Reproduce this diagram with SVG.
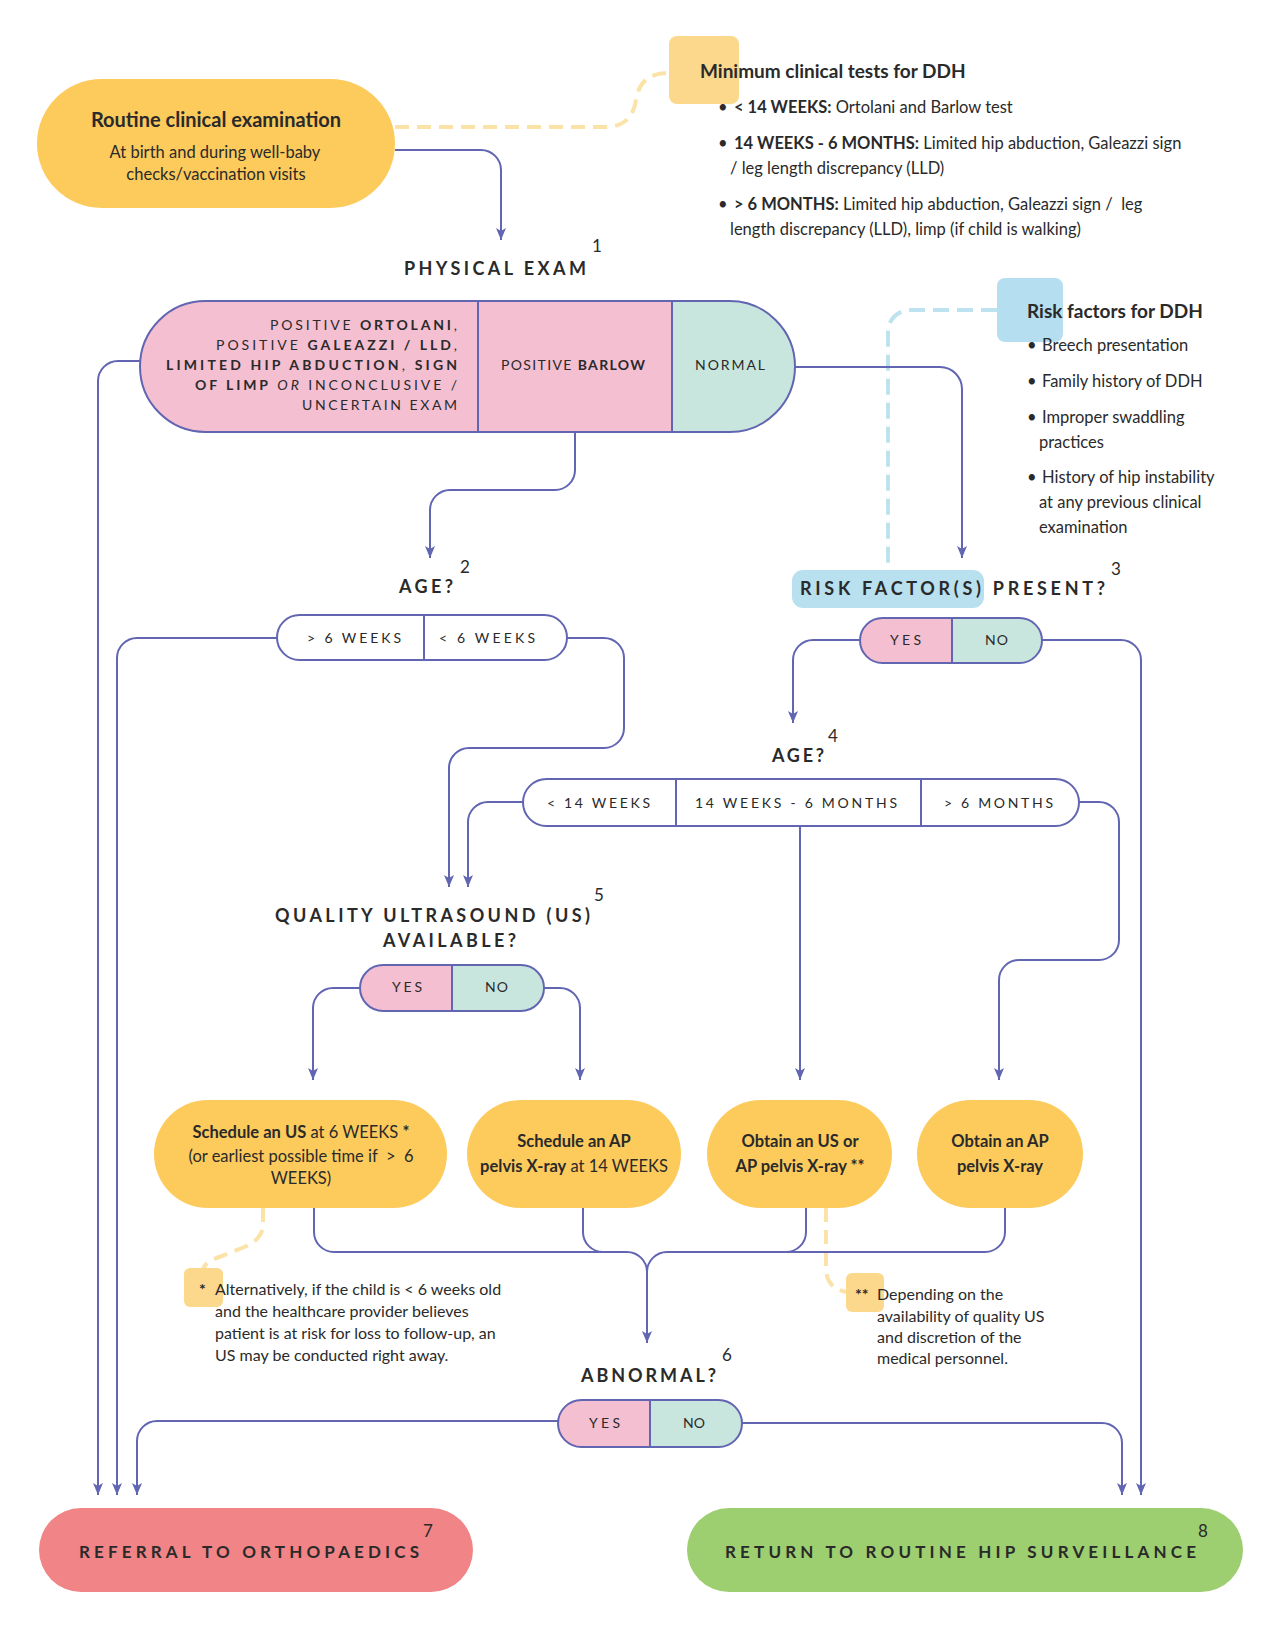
<svg xmlns="http://www.w3.org/2000/svg" width="1276" height="1651" viewBox="0 0 1276 1651">
<defs>
<style>
text{font-family:Lato,"Liberation Sans",sans-serif;fill:#2a2a2a}
.hd{font-size:18px;font-weight:700}
.sup{font-size:17px}
.opt{font-size:14px}
.b{font-weight:700}
.body{font-size:16.5px}
.fn{font-size:16px}
.ttl{font-size:19px;font-weight:700}
.box{font-size:16.5px;text-anchor:middle}
.conn{fill:none;stroke:#6165B2;stroke-width:2;marker-end:url(#arr)}
.ln{fill:none;stroke:#6165B2;stroke-width:2}
.ol{stroke:#6165B2;stroke-width:2}
.dy{fill:none;stroke:#FBE2A6;stroke-width:4;stroke-dasharray:14 8}
.db{fill:none;stroke:#BDE2F0;stroke-width:4;stroke-dasharray:16 8}
.yel{fill:#FDCA5C}
.pk{fill:#F4BFD1}
.mt{fill:#C9E6DE}
</style>
<marker id="arr" viewBox="0 0 12 10" refX="12" refY="5" markerWidth="12" markerHeight="10" markerUnits="userSpaceOnUse" orient="auto">
<path d="M0,0 L12,5 L0,10 L3,5 Z" fill="#6165B2"/>
</marker>
</defs>
<rect width="1276" height="1651" fill="#fff"/>

<g id="connectors">
<path class="dy" d="M395,127 H605 Q632,127 636,100 Q640,73 668,73"/>
<path class="db" d="M997,310 H910 A22,22 0 0 0 888,332 V570"/>
<path class="dy" d="M263,1208 V1224 Q263,1240 242,1248 L222,1256 Q204,1262 203,1270"/>
<path class="dy" d="M826,1208 V1268 Q826,1288 846,1292"/>
<path class="conn" d="M395,150 H481 A20,20 0 0 1 501,170 V240"/>
<path class="conn" d="M140,361 H118 A20,20 0 0 0 98,381 V1495"/>
<path class="conn" d="M575,432 V470 A20,20 0 0 1 555,490 H450 A20,20 0 0 0 430,510 V558"/>
<path class="conn" d="M795,367 H940 A22,22 0 0 1 962,389 V558"/>
<path class="conn" d="M277,638 H137 A20,20 0 0 0 117,658 V1495"/>
<path class="conn" d="M567,638 H604 A20,20 0 0 1 624,658 V728 A20,20 0 0 1 604,748 H469 A20,20 0 0 0 449,768 V887"/>
<path class="conn" d="M523,802 H488 A20,20 0 0 0 468,822 V887"/>
<path class="conn" d="M800,826 V1080"/>
<path class="conn" d="M1079,802 H1099 A20,20 0 0 1 1119,822 V940 A20,20 0 0 1 1099,960 H1019 A20,20 0 0 0 999,980 V1080"/>
<path class="conn" d="M860,640 H813 A20,20 0 0 0 793,660 V723"/>
<path class="conn" d="M1042,640 H1121 A20,20 0 0 1 1141,660 V1495"/>
<path class="conn" d="M360,988 H333 A20,20 0 0 0 313,1008 V1080"/>
<path class="conn" d="M544,988 H560 A20,20 0 0 1 580,1008 V1080"/>
<path class="conn" d="M314,1208 V1232 A20,20 0 0 0 334,1252 H627 A20,20 0 0 1 647,1272 V1343"/>
<path class="ln" d="M1005,1208 V1232 A20,20 0 0 1 985,1252 H667 A20,20 0 0 0 647,1272"/>
<path class="ln" d="M583,1208 V1232 A20,20 0 0 0 603,1252"/>
<path class="ln" d="M806,1208 V1232 A20,20 0 0 1 786,1252"/>
<path class="conn" d="M558,1421 H157 A20,20 0 0 0 137,1441 V1495"/>
<path class="conn" d="M742,1423 H1102 A20,20 0 0 1 1122,1443 V1495"/>
</g>

<g id="routine">
<rect class="yel" x="37" y="79" width="358" height="129" rx="64.5"/>
<text x="216" y="127" text-anchor="middle" style="font-size:20px;font-weight:700">Routine clinical examination</text>
<text x="215" y="158" text-anchor="middle" class="body">At birth and during well-baby</text>
<text x="216" y="180" text-anchor="middle" class="body">checks/vaccination visits</text>
</g>

<g id="min-tests">
<rect x="669" y="36" width="70" height="68" rx="8" fill="#FCD88C"/>
<text x="700" y="78" class="ttl">Minimum clinical tests for DDH</text>
<g class="body">
<text x="718" y="113">•</text>
<text x="734" y="113"><tspan class="b">&lt; 14 WEEKS:</tspan> Ortolani and Barlow test</text>
<text x="718" y="149">•</text>
<text x="734" y="149"><tspan class="b">14 WEEKS - 6 MONTHS:</tspan> Limited hip abduction, Galeazzi sign</text>
<text x="730" y="174">/ leg length discrepancy (LLD)</text>
<text x="718" y="210">•</text>
<text x="734" y="210"><tspan class="b">&gt; 6 MONTHS:</tspan> Limited hip abduction, Galeazzi sign /&#160; leg</text>
<text x="730" y="235">length discrepancy (LLD), limp (if child is walking)</text>
</g>
</g>

<g id="physical-exam">
<text x="404" y="275" class="hd" textLength="182" lengthAdjust="spacing">PHYSICAL EXAM</text>
<text x="592" y="252" class="sup">1</text>
<path class="pk" d="M205.5,301 H672 V432 H205.5 A65.5,65.5 0 0 1 205.5,301 Z"/>
<path class="mt" d="M672,301 H729.5 A65.5,65.5 0 0 1 729.5,432 H672 Z"/>
<rect x="140" y="301" width="655" height="131" rx="65.5" fill="none" class="ol"/>
<line x1="478" y1="301" x2="478" y2="432" class="ol"/>
<line x1="672" y1="301" x2="672" y2="432" class="ol"/>
<g class="opt">
<text x="270" y="330" textLength="187" lengthAdjust="spacing">POSITIVE <tspan class="b">ORTOLANI</tspan>,</text>
<text x="216" y="350" textLength="241" lengthAdjust="spacing">POSITIVE <tspan class="b">GALEAZZI / LLD</tspan>,</text>
<text x="166" y="370" textLength="291" lengthAdjust="spacing"><tspan class="b">LIMITED HIP ABDUCTION</tspan>, <tspan class="b">SIGN</tspan></text>
<text x="195" y="390" textLength="262" lengthAdjust="spacing"><tspan class="b">OF LIMP</tspan> <tspan font-style="italic">OR</tspan> INCONCLUSIVE /</text>
<text x="302" y="410" textLength="155" lengthAdjust="spacing">UNCERTAIN EXAM</text>
<text x="501" y="370" textLength="144" lengthAdjust="spacing">POSITIVE <tspan class="b">BARLOW</tspan></text>
<text x="695" y="370" textLength="70" lengthAdjust="spacing">NORMAL</text>
</g>
</g>

<g id="risk-factors">
<rect x="997" y="278" width="66" height="64" rx="8" fill="#B5DFF0"/>
<text x="1027" y="318" class="ttl">Risk factors for DDH</text>
<g class="body">
<text x="1027" y="351">•</text><text x="1042" y="351">Breech presentation</text>
<text x="1027" y="387">•</text><text x="1042" y="387">Family history of DDH</text>
<text x="1027" y="423">•</text><text x="1042" y="423">Improper swaddling</text>
<text x="1039" y="448">practices</text>
<text x="1027" y="483">•</text><text x="1042" y="483">History of hip instability</text>
<text x="1039" y="508">at any previous clinical</text>
<text x="1039" y="533">examination</text>
</g>
</g>

<g id="age1">
<text x="399" y="593" class="hd" textLength="54" lengthAdjust="spacing">AGE?</text>
<text x="460" y="573" class="sup">2</text>
<rect x="277" y="615" width="290" height="45" rx="22.5" fill="#fff" class="ol"/>
<line x1="424" y1="615" x2="424" y2="660" class="ol"/>
<text x="307" y="643" class="opt" textLength="94" lengthAdjust="spacing">&gt; 6 WEEKS</text>
<text x="439" y="643" class="opt" textLength="96" lengthAdjust="spacing">&lt; 6 WEEKS</text>
</g>

<g id="risk-present">
<rect x="792" y="570" width="192" height="38" rx="11" fill="#B8E0EE"/>
<text x="800" y="595" class="hd" textLength="305" lengthAdjust="spacing">RISK FACTOR(S) PRESENT?</text>
<text x="1111" y="575" class="sup">3</text>
<path class="pk" d="M882.5,618 H952 V663 H882.5 A22.5,22.5 0 0 1 882.5,618 Z"/>
<path class="mt" d="M952,618 H1019.5 A22.5,22.5 0 0 1 1019.5,663 H952 Z"/>
<rect x="860" y="618" width="182" height="45" rx="22.5" fill="none" class="ol"/>
<line x1="952" y1="618" x2="952" y2="663" class="ol"/>
<text x="890" y="645" class="opt" textLength="31" lengthAdjust="spacing">YES</text>
<text x="985" y="645" class="opt" textLength="23" lengthAdjust="spacing">NO</text>
</g>

<g id="age2">
<text x="772" y="762" class="hd" textLength="52" lengthAdjust="spacing">AGE?</text>
<text x="828" y="742" class="sup">4</text>
<rect x="523" y="779" width="556" height="47" rx="23.5" fill="#fff" class="ol"/>
<line x1="676" y1="779" x2="676" y2="826" class="ol"/>
<line x1="921" y1="779" x2="921" y2="826" class="ol"/>
<text x="547" y="808" class="opt" textLength="103" lengthAdjust="spacing">&lt; 14 WEEKS</text>
<text x="695" y="808" class="opt" textLength="202" lengthAdjust="spacing">14 WEEKS - 6 MONTHS</text>
<text x="944" y="808" class="opt" textLength="109" lengthAdjust="spacing">&gt; 6 MONTHS</text>
</g>

<g id="quality-us">
<text x="275" y="922" class="hd" textLength="315" lengthAdjust="spacing">QUALITY ULTRASOUND (US)</text>
<text x="383" y="947" class="hd" textLength="133" lengthAdjust="spacing">AVAILABLE?</text>
<text x="594" y="901" class="sup">5</text>
<path class="pk" d="M383,965 H452 V1011 H383 A23,23 0 0 1 383,965 Z"/>
<path class="mt" d="M452,965 H521 A23,23 0 0 1 521,1011 H452 Z"/>
<rect x="360" y="965" width="184" height="46" rx="23" fill="none" class="ol"/>
<line x1="452" y1="965" x2="452" y2="1011" class="ol"/>
<text x="392" y="992" class="opt" textLength="30" lengthAdjust="spacing">YES</text>
<text x="485" y="992" class="opt" textLength="23" lengthAdjust="spacing">NO</text>
</g>

<g id="box-us6">
<rect class="yel" x="154" y="1100" width="293" height="108" rx="54"/>
<text x="301" y="1138" class="box"><tspan class="b">Schedule an US</tspan> at 6 WEEKS <tspan class="b">*</tspan></text>
<text x="301" y="1162" class="box">(or earliest possible time if&#160; &gt; &#160;6</text>
<text x="301" y="1184" class="box">WEEKS)</text>
</g>
<g id="box-xray14">
<rect class="yel" x="467" y="1100" width="214" height="108" rx="54"/>
<text x="574" y="1147" class="box b">Schedule an AP</text>
<text x="574" y="1172" class="box"><tspan class="b">pelvis X-ray</tspan> at 14 WEEKS</text>
</g>
<g id="box-us-or-xray">
<rect class="yel" x="707" y="1100" width="185" height="108" rx="54"/>
<text x="800" y="1147" class="box b">Obtain an US or</text>
<text x="800" y="1172" class="box b">AP pelvis X-ray **</text>
</g>
<g id="box-xray">
<rect class="yel" x="917" y="1100" width="166" height="108" rx="54"/>
<text x="1000" y="1147" class="box b">Obtain an AP</text>
<text x="1000" y="1172" class="box b">pelvis X-ray</text>
</g>

<g id="note1">
<rect x="184" y="1268" width="39" height="39" rx="6" fill="#FCD88C"/>
<g class="fn">
<text x="199" y="1295" class="b">*</text>
<text x="215" y="1295">Alternatively, if the child is &lt; 6 weeks old</text>
<text x="215" y="1317">and the healthcare provider believes</text>
<text x="215" y="1339">patient is at risk for loss to follow-up, an</text>
<text x="215" y="1361">US may be conducted right away.</text>
</g>
</g>

<g id="note2">
<rect x="846" y="1273" width="38" height="39" rx="6" fill="#FCD88C"/>
<g class="fn">
<text x="855" y="1300" class="b">**</text>
<text x="877" y="1300">Depending on the</text>
<text x="877" y="1322">availability of quality US</text>
<text x="877" y="1343">and discretion of the</text>
<text x="877" y="1364">medical personnel.</text>
</g>
</g>

<g id="abnormal">
<text x="581" y="1382" class="hd" textLength="135" lengthAdjust="spacing">ABNORMAL?</text>
<text x="722" y="1361" class="sup">6</text>
<path class="pk" d="M581.5,1400 H650 V1447 H581.5 A23.5,23.5 0 0 1 581.5,1400 Z"/>
<path class="mt" d="M650,1400 H718.5 A23.5,23.5 0 0 1 718.5,1447 H650 Z"/>
<rect x="558" y="1400" width="184" height="47" rx="23.5" fill="none" class="ol"/>
<line x1="650" y1="1400" x2="650" y2="1447" class="ol"/>
<text x="589" y="1428" class="opt" textLength="31" lengthAdjust="spacing">YES</text>
<text x="683" y="1428" class="opt" textLength="22" lengthAdjust="spacing">NO</text>
</g>

<g id="referral">
<rect x="39" y="1508" width="434" height="84" rx="42" fill="#F08486"/>
<text x="79" y="1558" class="hd" style="font-size:17px" textLength="340" lengthAdjust="spacing">REFERRAL TO ORTHOPAEDICS</text>
<text x="423" y="1537" class="sup">7</text>
</g>

<g id="return">
<rect x="687" y="1508" width="556" height="84" rx="42" fill="#9DCE70"/>
<text x="725" y="1558" class="hd" style="font-size:17px" textLength="471" lengthAdjust="spacing">RETURN TO ROUTINE HIP SURVEILLANCE</text>
<text x="1198" y="1537" class="sup">8</text>
</g>
</svg>
